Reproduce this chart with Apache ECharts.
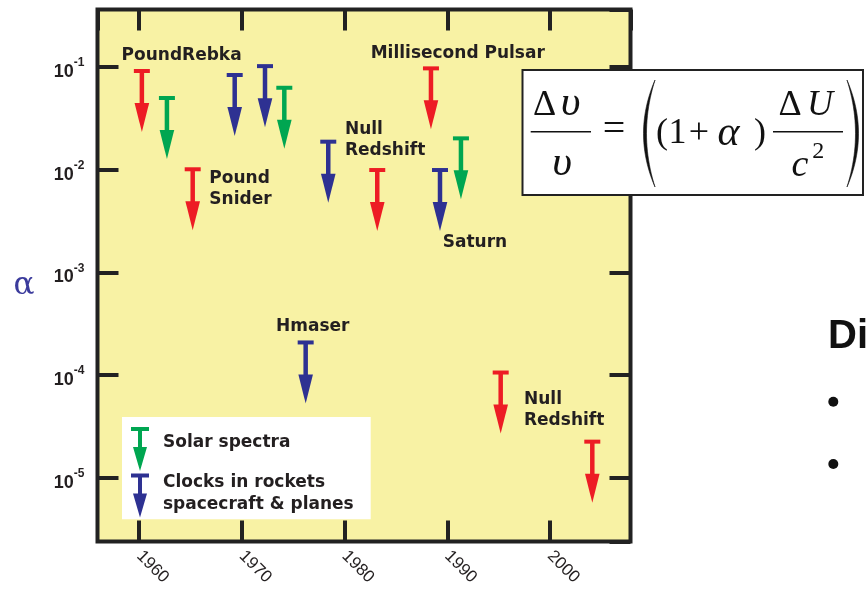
<!DOCTYPE html>
<html>
<head>
<meta charset="utf-8">
<title>Gravitational redshift limits on α</title>
<script src="https://cdn.jsdelivr.net/npm/echarts@6/dist/echarts.min.js"></script>
<style>
  html, body { margin: 0; padding: 0; background: #ffffff; }
  #chart { width: 866px; height: 595px; }
</style>
</head>
<body>
<div id="chart"></div>
<script>
// Upper limits on α per experiment (year, limit), grouped by technique
const redYears = [1960.26, 1965.21, 1983.18, 1988.41, 1995.2, 2004.12];
const redLimits = [0.0914, 0.0101, 0.00993, 0.097, 1.06e-4, 2.25e-5];
const greenYears = [1962.7, 1974.13, 1991.33];
const greenLimits = [0.0499, 0.0628, 0.0202];
const blueYears = [1969.3, 1972.25, 1976.21, 1978.41, 1989.29];
const blueLimits = [0.0836, 0.102, 2.08e-4, 0.01875, 0.00993];

// Axis ticks and labels
const xTickLabels = ['1960', '1970', '1980', '1990', '2000'];
const yTickValues = [1e-1, 1e-2, 1e-3, 1e-4, 1e-5];
const yTickSup = ['-1', '-2', '-3', '-4', '-5'];

// Experiment names, attached to an arrow of a group
const noteTexts = ['PoundRebka', 'Pound\nSnider', 'Millisecond Pulsar', 'Null\nRedshift', 'Saturn', 'Hmaser', 'Null\nRedshift'];
const noteGroup = ['red', 'red', 'red', 'blue', 'blue', 'blue', 'red'];
const noteIndex = [0, 1, 3, 3, 4, 2, 4];

// Legend names
const solarName = 'Solar spectra';
const clockName = 'Clocks in rockets\nspacecraft & planes';

// ---- styling / layout ----
const RED = '#ed1c24', GREEN = '#00a651', BLUE = '#2e3192', INK = '#231f20';
const noteOffsets = [[-20.3, -15.5], [16.6, 20.2], [-60.3, -14.3], [16.7, -1.7], [2.7, 72.5], [-29.7, -16.3], [23.3, 37.2]];
const noteFont = { fontFamily: 'DejaVu Sans', fontWeight: 'bold', fontSize: 17 };

const X_MIN = 1955.94, X_MAX = 2007.84;
const Y_MIN = Math.pow(10, -5.62), Y_MAX = Math.pow(10, -0.44);

const arrowIcon = 'path://M0,0H18V4H11V20H16L9,44L2,20H7V4H0Z';

function pairs(xs, ys) { return xs.map((x, i) => [x, ys[i]]); }

function renderArrow(params, api) {
  const p = api.coord([api.value(0), api.value(1)]);
  const color = api.visual('color');
  return {
    type: 'group',
    children: [
      { type: 'rect', shape: { x: p[0] - 8, y: p[1] - 2, width: 16, height: 4 }, style: { fill: color } },
      { type: 'rect', shape: { x: p[0] - 2.25, y: p[1], width: 4.5, height: 33 }, style: { fill: color } },
      { type: 'polygon', shape: { points: [[p[0] - 7.3, p[1] + 32], [p[0] + 7.3, p[1] + 32], [p[0], p[1] + 61]] }, style: { fill: color } }
    ]
  };
}

function yLabel(v) {
  const e = Math.log10(v);
  const i = yTickValues.findIndex(t => Math.abs(Math.log10(t) - e) < 1e-6);
  return i < 0 ? '' : '{b|10}{s|' + yTickSup[i] + '}';
}
function xLabel(v) {
  const s = String(Math.round(v));
  return (Math.abs(v - Math.round(v)) < 1e-6 && xTickLabels.indexOf(s) >= 0) ? s : '';
}
// Legend text sits a little above the middle of its arrow icon
function legendLabel(name) {
  return '{t|' + name + '}\n{' + (name === solarName ? 'g1' : 'g2') + '| }';
}

const tickStyle = { show: true, inside: true, length: 21, lineStyle: { color: '#222', width: 4 } };

// Tall, thin parenthesis outline: outer and inner quadratic curves joined
function parenPoints(x0, yTop, yBot, outerX, innerX) {
  const pts = [];
  const ym = (yTop + yBot) / 2;
  const n = 24;
  for (let k = 0; k <= n; k++) {
    const t = k / n, u = 1 - t;
    pts.push([u * u * x0 + 2 * u * t * outerX + t * t * x0, u * u * yTop + 2 * u * t * ym + t * t * yBot]);
  }
  for (let k = n; k >= 0; k--) {
    const t = k / n, u = 1 - t;
    pts.push([u * u * x0 + 2 * u * t * innerX + t * t * x0, u * u * yTop + 2 * u * t * ym + t * t * yBot]);
  }
  return pts;
}

// Equation  Δυ/υ = ( (1+α) ΔU/c² )
const serif = 'Liberation Serif';
function glyph(text, x, y, size, italic) {
  return {
    type: 'text', z: 101, x: x, y: y,
    style: { text: text, fill: '#111', fontFamily: serif, fontSize: size, fontStyle: italic ? 'italic' : 'normal', align: 'center', verticalAlign: 'middle' }
  };
}
const equation = [
  { type: 'rect', z: 100, shape: { x: 522.5, y: 70, width: 340.5, height: 125 }, style: { fill: '#ffffff', stroke: '#222', lineWidth: 2 } },
  glyph('Δ', 544.5, 105.1, 36, false),
  glyph('υ', 570.5, 103.5, 43, true),
  { type: 'line', z: 101, shape: { x1: 530.7, y1: 131.7, x2: 591, y2: 131.7 }, style: { stroke: '#111', lineWidth: 1.6 } },
  glyph('υ', 562, 164.2, 43, true),
  glyph('=', 614, 130, 40, false),
  { type: 'polygon', z: 101, shape: { points: parenPoints(655, 80, 187, 632, 638) }, style: { fill: '#111', stroke: '#111', lineWidth: 0.6 } },
  glyph('(', 662, 134, 36, false),
  glyph('1', 677.5, 134, 36, false),
  glyph('+', 699, 134, 36, false),
  glyph('α', 728.5, 134, 42, true),
  glyph(')', 760, 134, 36, false),
  glyph('Δ', 790, 105.1, 36, false),
  glyph('U', 820, 105.1, 36, true),
  { type: 'line', z: 101, shape: { x1: 773, y1: 131.7, x2: 843, y2: 131.7 }, style: { stroke: '#111', lineWidth: 1.6 } },
  glyph('c', 800, 165.8, 38, true),
  glyph('2', 818.3, 151.9, 24, false),
  { type: 'polygon', z: 101, shape: { points: parenPoints(847, 80, 187, 870, 864) }, style: { fill: '#111', stroke: '#111', lineWidth: 0.6 } }
];

// Neighbouring slide text
const sideText = [
  { type: 'text', z: 50, x: 828, y: 337, style: { text: 'Di', fill: '#111', fontFamily: 'Liberation Sans', fontWeight: 'bold', fontSize: 40, verticalAlign: 'middle' } },
  { type: 'circle', z: 50, shape: { cx: 833.3, cy: 401.7, r: 5 }, style: { fill: '#111' } },
  { type: 'circle', z: 50, shape: { cx: 833.3, cy: 464, r: 5 }, style: { fill: '#111' } }
];

const chart = echarts.init(document.getElementById('chart'), null, { renderer: 'canvas' });

const legendFont = { fontFamily: 'DejaVu Sans', fontWeight: 'bold', fontSize: 17, color: INK, lineHeight: 21.6 };

const option = {
  animation: false,
  backgroundColor: '#ffffff',
  grid: {
    left: 97.5, top: 9.5, right: 235.5, bottom: 53.5,
    show: true, backgroundColor: '#f8f2a4', borderColor: '#222', borderWidth: 4
  },
  xAxis: [
    {
      type: 'value', min: X_MIN, max: X_MAX, minInterval: 10, maxInterval: 10,
      axisLine: { show: false }, splitLine: { show: false },
      axisTick: tickStyle,
      axisLabel: {
        show: true, rotate: -45, margin: 12, formatter: xLabel,
        showMinLabel: false, showMaxLabel: false,
        fontFamily: 'Liberation Sans', fontSize: 17, color: INK
      }
    },
    {
      type: 'value', position: 'top', min: X_MIN, max: X_MAX, minInterval: 10, maxInterval: 10,
      axisLine: { show: false }, splitLine: { show: false },
      axisTick: tickStyle, axisLabel: { show: false }
    }
  ],
  yAxis: [
    {
      type: 'log', logBase: 10, min: Y_MIN, max: Y_MAX,
      name: 'α', nameLocation: 'middle', nameRotate: 0, nameGap: 63,
      nameTextStyle: { color: '#3b3b9c', fontFamily: 'DejaVu Serif', fontSize: 31, lineHeight: 20, verticalAlign: 'top' },
      axisLine: { show: false }, splitLine: { show: false },
      axisTick: tickStyle,
      axisLabel: {
        show: true, margin: 13, formatter: yLabel, showMinLabel: false, showMaxLabel: false,
        padding: [10, 0, 0, 0],
        rich: {
          b: { fontFamily: 'Liberation Sans', fontWeight: 'bold', fontSize: 18, color: INK, lineHeight: 30 },
          s: { fontFamily: 'Liberation Sans', fontWeight: 'bold', fontSize: 12, color: INK, lineHeight: 14, verticalAlign: 'top' }
        }
      }
    },
    {
      type: 'log', logBase: 10, min: Y_MIN, max: Y_MAX, position: 'right',
      axisLine: { show: false }, splitLine: { show: false },
      axisTick: tickStyle, axisLabel: { show: false }
    }
  ],
  legend: {
    left: 122, top: 417, orient: 'vertical',
    backgroundColor: '#ffffff', padding: [10, 17, 0, 9],
    itemWidth: 18, itemHeight: 44, itemGap: 1, selectedMode: false,
    formatter: legendLabel,
    textStyle: Object.assign({ padding: [0, 0, 0, 9], rich: {
      t: legendFont,
      g1: { fontSize: 2, lineHeight: 12.6 },
      g2: { fontSize: 2, lineHeight: 4 }
    } }, legendFont),
    data: [
      { name: solarName, icon: arrowIcon, itemStyle: { color: GREEN } },
      { name: clockName, icon: arrowIcon, itemStyle: { color: BLUE } }
    ]
  },
  series: [
    { name: 'Redshift', type: 'custom', renderItem: renderArrow, data: pairs(redYears, redLimits), itemStyle: { color: RED }, encode: { x: 0, y: 1 } },
    { name: solarName, type: 'custom', renderItem: renderArrow, data: pairs(greenYears, greenLimits), itemStyle: { color: GREEN }, encode: { x: 0, y: 1 } },
    { name: clockName, type: 'custom', renderItem: renderArrow, data: pairs(blueYears, blueLimits), itemStyle: { color: BLUE }, encode: { x: 0, y: 1 } }
  ]
};

chart.setOption(option);

// Experiment names placed beside their arrows
const groups = { red: pairs(redYears, redLimits), green: pairs(greenYears, greenLimits), blue: pairs(blueYears, blueLimits) };
const notes = noteTexts.map((t, i) => {
  const p = chart.convertToPixel({ xAxisIndex: 0, yAxisIndex: 0 }, groups[noteGroup[i]][noteIndex[i]]);
  return {
    type: 'text', z: 60, x: p[0] + noteOffsets[i][0], y: p[1] + noteOffsets[i][1],
    style: Object.assign({ text: t, fill: INK, lineHeight: 21, verticalAlign: 'middle', align: 'left' }, noteFont)
  };
});

chart.setOption({ graphic: { elements: notes.concat(equation, sideText) } });
</script>
</body>
</html>
